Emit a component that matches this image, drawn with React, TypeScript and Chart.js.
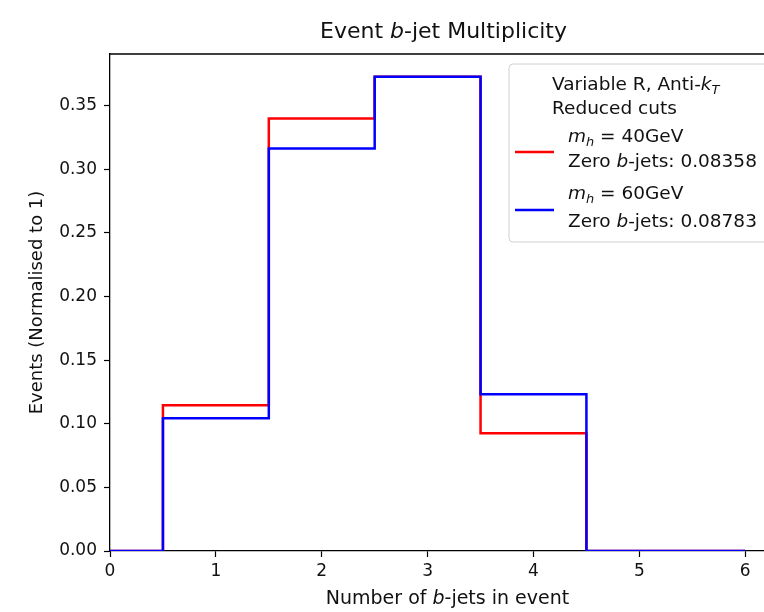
import React, { useEffect, useRef } from "react";
import { Chart, registerables } from "chart.js";

Chart.register(...registerables);

const binEdges = [0, 0.5, 1.5, 2.5, 3.5, 4.5, 6];
const red40 = [0, 0.1146, 0.3399, 0.3728, 0.0926, 0, 0];
const blue60 = [0, 0.1044, 0.3163, 0.3728, 0.1232, 0, 0];
const xTicks = [0, 1, 2, 3, 4, 5, 6];
const yTicks = [0, 0.05, 0.1, 0.15, 0.2, 0.25, 0.3, 0.35];
const zeroRed = "0.08358";
const zeroBlue = "0.08783";

const FONT = "'DejaVu Sans', sans-serif";

type Run = { t: string; it?: boolean; sub?: boolean };

function runsWidth(ctx: CanvasRenderingContext2D, runs: Run[], size: number) {
  let w = 0;
  for (const r of runs) {
    const s = r.sub ? size * 0.7 : size;
    ctx.font = `${r.it ? "italic " : ""}${s}px ${FONT}`;
    w += ctx.measureText(r.t).width;
  }
  return w;
}

function drawRuns(
  ctx: CanvasRenderingContext2D,
  runs: Run[],
  x: number,
  y: number,
  size: number,
  align: "left" | "center" = "left"
) {
  ctx.save();
  ctx.textBaseline = "alphabetic";
  ctx.textAlign = "left";
  ctx.fillStyle = "#111";
  let cx = align === "center" ? x - runsWidth(ctx, runs, size) / 2 : x;
  for (const r of runs) {
    const s = r.sub ? size * 0.7 : size;
    ctx.font = `${r.it ? "italic " : ""}${s}px ${FONT}`;
    ctx.fillText(r.t, cx, r.sub ? y + size * 0.22 : y);
    cx += ctx.measureText(r.t).width;
  }
  ctx.restore();
}

const decorPlugin = {
  id: "decor",
  afterDraw(chart: any) {
    const ctx: CanvasRenderingContext2D = chart.ctx;
    const a = chart.chartArea;
    const cxm = (a.left + a.right) / 2;
    // top & right spines
    ctx.save();
    ctx.strokeStyle = "#000";
    ctx.lineWidth = 1.3;
    ctx.beginPath();
    ctx.moveTo(a.left, a.top);
    ctx.lineTo(a.right, a.top);
    ctx.lineTo(a.right, a.bottom);
    ctx.stroke();
    ctx.restore();

    // title
    drawRuns(ctx, [{ t: "Event " }, { t: "b", it: true }, { t: "-jet Multiplicity" }], cxm, 38, 22, "center");
    // x label
    drawRuns(ctx, [{ t: "Number of " }, { t: "b", it: true }, { t: "-jets in event" }], cxm + 4, 604, 19, "center");
    // y label
    ctx.save();
    ctx.translate(42, (a.top + a.bottom) / 2);
    ctx.rotate(-Math.PI / 2);
    drawRuns(ctx, [{ t: "Events (Normalised to 1)" }], 0, 0, 18, "center");
    ctx.restore();

    // legend
    ctx.save();
    const lx = 509, ly = 64, lw = 290, lh = 178, rr = 4;
    ctx.beginPath();
    ctx.moveTo(lx + rr, ly);
    ctx.lineTo(lx + lw - rr, ly);
    ctx.quadraticCurveTo(lx + lw, ly, lx + lw, ly + rr);
    ctx.lineTo(lx + lw, ly + lh - rr);
    ctx.quadraticCurveTo(lx + lw, ly + lh, lx + lw - rr, ly + lh);
    ctx.lineTo(lx + rr, ly + lh);
    ctx.quadraticCurveTo(lx, ly + lh, lx, ly + lh - rr);
    ctx.lineTo(lx, ly + rr);
    ctx.quadraticCurveTo(lx, ly, lx + rr, ly);
    ctx.closePath();
    ctx.fillStyle = "rgba(255,255,255,0.8)";
    ctx.fill();
    ctx.strokeStyle = "#d0d0d0";
    ctx.lineWidth = 1;
    ctx.stroke();
    ctx.restore();

    const ls = 18.5;
    drawRuns(ctx, [{ t: "Variable R, Anti-" }, { t: "k", it: true }, { t: "T", it: true, sub: true }], 552, 90, ls);
    drawRuns(ctx, [{ t: "Reduced cuts" }], 552, 114, ls);
    drawRuns(ctx, [{ t: "m", it: true }, { t: "h", it: true, sub: true }, { t: " = 40GeV" }], 568, 142, ls);
    drawRuns(ctx, [{ t: "Zero " }, { t: "b", it: true }, { t: "-jets: " + zeroRed }], 568, 167, ls);
    drawRuns(ctx, [{ t: "m", it: true }, { t: "h", it: true, sub: true }, { t: " = 60GeV" }], 568, 199, ls);
    drawRuns(ctx, [{ t: "Zero " }, { t: "b", it: true }, { t: "-jets: " + zeroBlue }], 568, 227, ls);

    ctx.save();
    ctx.lineWidth = 2.5;
    ctx.strokeStyle = "#ff0000";
    ctx.beginPath();
    ctx.moveTo(515, 152);
    ctx.lineTo(554, 152);
    ctx.stroke();
    ctx.strokeStyle = "#0000ff";
    ctx.beginPath();
    ctx.moveTo(515, 210);
    ctx.lineTo(554, 210);
    ctx.stroke();
    ctx.restore();
  },
};

export default function App() {
  const ref = useRef<HTMLCanvasElement>(null);
  useEffect(() => {
    if (!ref.current) return;
    const chart = new Chart(ref.current, {
      type: "line",
      data: {
        datasets: [
          {
            label: "m_h = 40GeV",
            data: binEdges.map((x, i) => ({ x, y: red40[i] })),
            borderColor: "#ff0000",
            borderWidth: 2.5,
            pointRadius: 0,
            stepped: "before",
            fill: false,
            order: 2,
          },
          {
            label: "m_h = 60GeV",
            data: binEdges.map((x, i) => ({ x, y: blue60[i] })),
            borderColor: "#0000ff",
            borderWidth: 2.5,
            pointRadius: 0,
            stepped: "before",
            fill: false,
            order: 1,
          },
        ],
      },
      options: {
        responsive: false,
        animation: false,
        devicePixelRatio: 1,
        layout: { padding: { top: 54, right: 23, left: 0, bottom: 0 } },
        plugins: {
          legend: { display: false },
          title: { display: false },
          tooltip: { enabled: false },
        },
        scales: {
          x: {
            type: "linear",
            min: 0,
            max: 6.3,
            afterFit: (s: any) => {
              s.height = 61;
            },
            afterBuildTicks: (s: any) => {
              s.ticks = xTicks.map((v) => ({ value: v }));
            },
            ticks: {
              color: "#111",
              font: { family: FONT, size: 17 },
              padding: 4,
              maxRotation: 0,
              callback: (v: any) => String(v),
            },
            grid: { drawOnChartArea: false, tickLength: 6, tickColor: "#000", tickWidth: 1.2 },
            border: { color: "#000", width: 1.3 },
          },
          y: {
            type: "linear",
            min: 0,
            max: 0.3906,
            afterFit: (s: any) => {
              s.width = 110;
            },
            afterBuildTicks: (s: any) => {
              s.ticks = yTicks.map((v) => ({ value: v }));
            },
            ticks: {
              color: "#111",
              font: { family: FONT, size: 17 },
              padding: 7,
              callback: (v: any) => Number(v).toFixed(2),
            },
            grid: { drawOnChartArea: false, tickLength: 6, tickColor: "#000", tickWidth: 1.2 },
            border: { color: "#000", width: 1.3 },
          },
        },
      },
      plugins: [decorPlugin],
    });
    return () => chart.destroy();
  }, []);
  return (
    <div style={{ position: "absolute", left: 0, top: 0, width: 764, height: 612, overflow: "hidden", background: "#fff" }}>
      <canvas ref={ref} width={800} height={612} style={{ display: "block", width: 800, height: 612 }} />
    </div>
  );
}
